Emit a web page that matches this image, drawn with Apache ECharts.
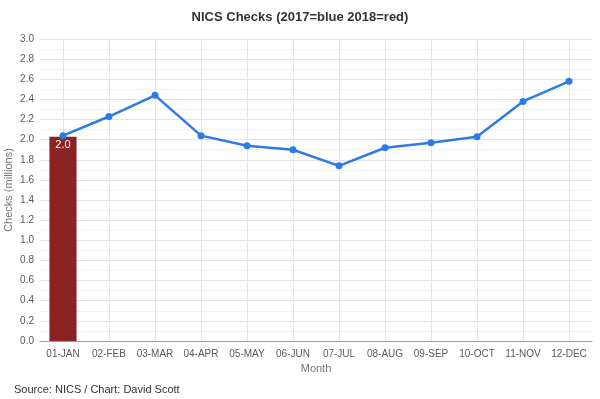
<!DOCTYPE html>
<html>
<head>
<meta charset="utf-8">
<script src="https://cdn.jsdelivr.net/npm/echarts@6/dist/echarts.min.js"></script>
<style>html,body{margin:0;padding:0;background:#fff}#c{width:600px;height:399px}</style>
</head>
<body>
<div id="c"></div>
<script>
var months = ['01-JAN','02-FEB','03-MAR','04-APR','05-MAY','06-JUN','07-JUL','08-AUG','09-SEP','10-OCT','11-NOV','12-DEC'];
var checks2017 = [2.04, 2.23, 2.44, 2.04, 1.94, 1.90, 1.74, 1.92, 1.97, 2.03, 2.38, 2.58];
var checks2018 = [2.03, null, null, null, null, null, null, null, null, null, null, null];
var yTicks = [0, 3, 0.2];

var chart = echarts.init(document.getElementById('c'), null, {renderer: 'canvas'});
var font = 'Liberation Sans, Arial, sans-serif';
chart.setOption({
  animation: false,
  textStyle: {fontFamily: font},
  title: {
    text: 'NICS Checks (2017=blue 2018=red)',
    left: 'center', top: 6,
    textStyle: {fontSize: 13, fontWeight: 'bold', color: '#333', fontFamily: font}
  },
  grid: {left: 40, right: 8, top: 39, bottom: 58, containLabel: false, outerBoundsMode: 'none'},
  xAxis: {
    type: 'category',
    data: months,
    name: 'Month', nameLocation: 'middle', nameGap: 22, nameMoveOverlap: false,
    nameTextStyle: {color: '#757575', fontSize: 11, fontFamily: font},
    axisLine: {show: true, lineStyle: {color: '#9e9e9e'}},
    axisTick: {show: false},
    axisLabel: {color: '#5a5a5a', fontSize: 10, margin: 8, interval: 0, fontFamily: font},
    splitLine: {show: false}
  },
  yAxis: {
    type: 'value',
    min: yTicks[0], max: yTicks[1], interval: yTicks[2],
    name: 'Checks (millions)', nameLocation: 'middle', nameGap: 26, nameMoveOverlap: false,
    nameTextStyle: {color: '#757575', fontSize: 11, fontFamily: font},
    axisLine: {show: false}, axisTick: {show: false},
    axisLabel: {color: '#5a5a5a', fontSize: 10, margin: 6, formatter: function(v){return v.toFixed(1);}, fontFamily: font},
    splitLine: {show: true, lineStyle: {color: '#e3e3e3', width: 1}},
    minorTick: {show: false, splitNumber: 2},
    minorSplitLine: {show: true, lineStyle: {color: '#f1f1f1', width: 1}}
  },
  series: [
    {
      type: 'line',
      data: [],
      z: 0,
      silent: true,
      markLine: {
        z: 0,
        silent: true, symbol: 'none', animation: false,
        label: {show: false},
        lineStyle: {color: '#e6e6e6', type: 'solid', width: 1},
        data: months.map(function(m){return {xAxis: m};})
      }
    },
    {
      type: 'bar',
      data: checks2018,
      barWidth: '59%',
      itemStyle: {color: '#8a2323'},
      label: {
        show: true, position: 'insideTop', distance: 3,
        color: '#fff', fontSize: 11, fontFamily: font,
        formatter: function(p){return p.value == null ? '' : p.value.toFixed(1);}
      },
      z: 2
    },
    {
      type: 'line',
      data: checks2017,
      symbol: 'circle', symbolSize: 7,
      lineStyle: {color: '#2f7be6', width: 2.5},
      itemStyle: {color: '#2f7be6'},
      z: 3
    }
  ],
  graphic: [{
    type: 'text', left: 14, top: 384,
    style: {text: 'Source: NICS / Chart: David Scott', fill: '#333', font: '11px ' + font}
  }]
});
</script>
</body>
</html>
